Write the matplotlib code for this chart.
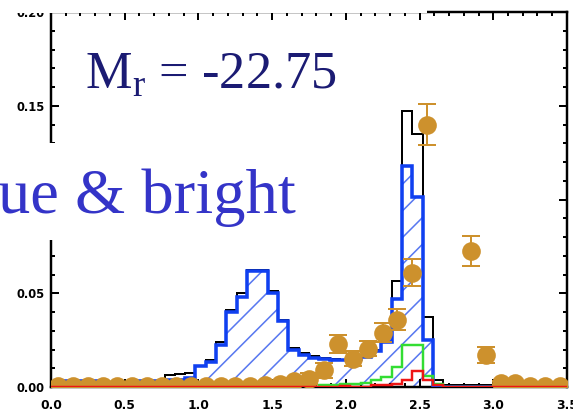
import numpy as np
import matplotlib
matplotlib.use("Agg")
import matplotlib.pyplot as plt
from matplotlib.patches import Rectangle

# histogram bins (colour index g-r style), 0.07 wide
edges = np.linspace(0.0, 3.5, 51)

total = [0.002, 0.003, 0.003, 0.002, 0.003, 0.002, 0.001, 0.002, 0.003, 0.003,
         0.003, 0.0065, 0.007, 0.0075, 0.011, 0.0145, 0.024, 0.041, 0.050, 0.0625,
         0.0625, 0.051, 0.036, 0.021, 0.018, 0.0165, 0.0155, 0.015, 0.0145, 0.015,
         0.016, 0.0195, 0.026, 0.0565, 0.147, 0.135, 0.0376, 0.004, 0.001, 0.001,
         0.001, 0.001, 0.001, 0, 0, 0, 0, 0, 0, 0]
blue = [0.002, 0.003, 0.003, 0.002, 0.003, 0.002, 0.001, 0.002, 0.003, 0.003,
        0.003, 0.004, 0.004, 0.005, 0.011, 0.0135, 0.0225, 0.040, 0.048, 0.062,
        0.062, 0.050, 0.035, 0.020, 0.017, 0.0155, 0.015, 0.0145, 0.0145, 0.015,
        0.016, 0.019, 0.024, 0.047, 0.118, 0.1016, 0.025, 0, 0, 0,
        0, 0, 0, 0, 0, 0, 0, 0, 0, 0]
green = [0] * 26 + [0.001, 0.001, 0.0015, 0.0016, 0.002, 0.004, 0.0055, 0.0105,
                    0.0225, 0.0225, 0.006, 0.0015] + [0] * 12
red = [0] * 28 + [0.0008, 0, 0, 0.001, 0.001, 0.0015, 0.004, 0.0086, 0.004,
                  0.001] + [0] * 12

# observed points with error bars
obs_x = [0.05, 0.15, 0.25, 0.35, 0.45, 0.55, 0.65, 0.75, 0.85, 0.95, 1.05, 1.15,
         1.25, 1.35, 1.45, 1.55, 1.65, 1.75, 1.85, 1.95, 2.05, 2.15, 2.25, 2.35,
         2.45, 2.55, 2.65, 2.75, 2.85, 2.95, 3.05, 3.15, 3.25, 3.35, 3.45]
obs_y = [0.0005, 0.0008, 0.0005, 0.0003, 0.0004, 0.0005, 0.0004, 0.0006, 0.0005,
         0.0005, 0.0006, 0.0005, 0.0006, 0.0008, 0.001, 0.0015, 0.003, 0.0045,
         0.009, 0.023, 0.015, 0.0204, 0.029, 0.036, 0.061, 0.140, np.nan, np.nan,
         0.0726, 0.0172, 0.002, 0.002, 0.0008, 0.0003, 0.0005]
obs_err = [0.001] * 16 + [0.002, 0.003, 0.004, 0.005, 0.004, 0.004, 0.005, 0.0054,
                          0.0073, 0.0108, 0, 0, 0.008, 0.0043] + [0.001] * 5

c_orange = "#cd912d"
c_blue = "#1040f0"
c_hatch = "#5878f0"

plt.rcParams["hatch.linewidth"] = 0.7
plt.rcParams["mathtext.fontset"] = "custom"
plt.rcParams["mathtext.rm"] = "Liberation Serif"

fig = plt.figure(figsize=(573 / 160, 414 / 160), dpi=160)
ax = fig.add_axes([0.089, 0.0652, 0.9005, 0.9058])

ax.stairs(blue, edges, fill=True, facecolor="none", edgecolor=c_hatch, hatch="//",
          linewidth=0, zorder=1)
ax.stairs(total, edges, color="black", linewidth=0.9, zorder=2)
ax.stairs(blue, edges, color=c_blue, linewidth=1.6, zorder=3)
ax.stairs(green, edges, color="#33dd33", linewidth=1.1, zorder=4)
ax.errorbar(obs_x, obs_y, yerr=obs_err, fmt="o", color=c_orange, markersize=7.4,
            elinewidth=0.9, capsize=4, capthick=0.9, zorder=5)
ax.stairs(red, edges, color="#ee1515", linewidth=1.1, zorder=6)

ax.set_xlim(0, 3.5)
ax.set_ylim(0, 0.20)
ax.set_xticks([0.0, 0.5, 1.0, 1.5, 2.0, 2.5, 3.0, 3.5])
ax.set_xticks(np.arange(0, 3.51, 0.1), minor=True)
ax.set_yticks([0.0, 0.05, 0.10, 0.15, 0.20])
ax.set_yticks(np.arange(0, 0.201, 0.01), minor=True)
ax.set_xticklabels(["0.0", "0.5", "1.0", "1.5", "2.0", "2.5", "3.0", "3.5"])
# the 0.10 label sits under the slide text box, so it is not shown
ax.set_yticklabels(["0.00", "0.05", "", "0.15", "0.20"])
ax.tick_params(which="both", direction="in", top=True, right=True, width=0.9,
               colors="black")
ax.tick_params(which="major", length=3.6)
ax.tick_params(which="minor", length=1.8)
ax.tick_params(axis="x", pad=5.5, labelsize=5.6)
ax.tick_params(axis="y", pad=3.0, labelsize=5.2)
for lab in ax.get_xticklabels() + ax.get_yticklabels():
    lab.set_fontweight("bold")
for s in ax.spines.values():
    s.set_linewidth(1.1)

# overlaid slide boxes
fig.add_artist(Rectangle((0, 1 - 12.5 / 414), 427 / 573, 12.5 / 414,
                         transform=fig.transFigure, facecolor="white",
                         edgecolor="none", zorder=5))
fig.add_artist(Rectangle((0, 1 - 240 / 414), 332 / 573, 97 / 414,
                         transform=fig.transFigure, facecolor="white",
                         edgecolor="none", zorder=5))

fig.text(85 / 573, 1 - 89 / 414, r"M$_{\mathrm{r}}$ = -22.75", fontsize=23.6,
         family="Liberation Serif", color="#1b1b73", ha="left", va="baseline",
         zorder=6)
fig.text(-2 / 573, 1 - 213 / 414, "ue & bright", fontsize=29,
         family="Liberation Serif", color="#3434c8", ha="left", va="baseline",
         zorder=6)

fig.savefig("out.png", dpi=160)
